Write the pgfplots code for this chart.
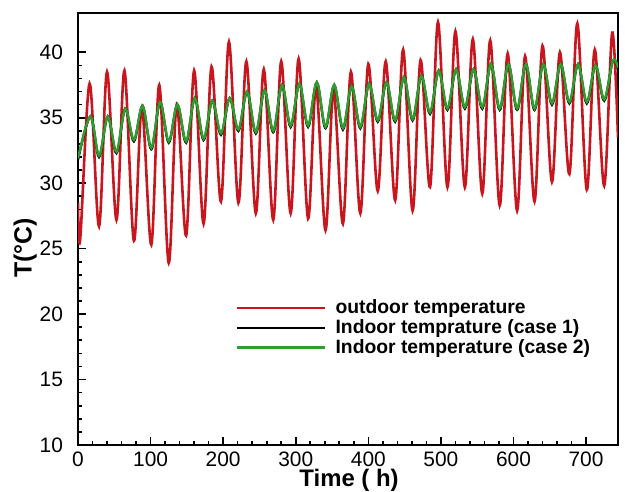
\documentclass[border=0pt]{standalone}
\usepackage{fontspec}
\setmainfont{Liberation Sans}
\usepackage{pgfplots}
\usepackage{pgfplotstable}
\pgfplotsset{compat=1.18}
\definecolor{outred}{HTML}{C8161E}
\definecolor{ingreen}{HTML}{2E9E2E}

% outdoor temperature: daily minima and maxima
\pgfplotstableread{
h T
0 28.5
3 25.7
16 37.6
29 26.7
40 38.5
53 27.2
64 38.6
77 25.6
88 35.8
101 25.3
112 37.5
125 23.9
136 36.0
149 26.0
160 38.6
173 26.9
184 38.9
197 28.6
208 40.8
221 28.5
232 39.3
245 27.7
256 38.7
269 27.2
280 39.3
293 27.7
304 39.5
317 27.3
328 37.4
341 26.4
352 37.1
365 26.9
376 38.5
389 27.7
400 39.1
413 29.4
424 39.3
437 28.7
448 40.2
461 27.9
472 39.4
485 29.7
496 42.3
509 29.7
520 41.6
533 29.7
544 41.0
557 29.2
568 40.9
581 28.3
592 39.9
605 27.9
616 39.7
629 28.6
640 40.5
653 30.1
664 40.0
677 30.7
688 42.2
701 29.5
712 40.2
725 29.8
736 41.5
744 33.5
}\outdoor

% indoor temperature, case 1 and case 2
\pgfplotstableread{
h c1 c2
0 31.8 31.9
17 35.1 35.1
29 32.0 32.1
41 35.1 35.1
53 32.3 32.4
65 35.7 35.7
77 33.2 33.3
89 35.9 35.9
101 32.6 32.7
113 36.2 36.2
125 33.1 33.2
137 36.0 36.0
149 33.1 33.2
161 36.5 36.5
173 33.3 33.4
185 36.3 36.3
197 33.7 33.8
209 36.5 36.5
221 34.0 34.1
233 37.0 37.0
245 33.8 33.9
257 37.1 37.1
269 33.9 34.0
281 37.5 37.5
293 34.3 34.4
305 37.6 37.6
317 34.3 34.4
329 37.7 37.7
341 34.2 34.3
353 37.5 37.5
365 34.1 34.2
377 37.4 37.4
389 34.2 34.3
401 37.6 37.6
413 34.7 34.8
425 37.7 37.7
437 34.7 34.8
449 38.1 38.1
461 34.8 34.9
473 38.2 38.2
485 35.3 35.4
497 38.6 38.6
509 35.6 35.7
521 38.7 38.7
533 35.7 35.8
545 38.7 38.7
557 35.7 35.8
569 39.1 39.1
581 35.6 35.7
593 39.1 39.1
605 35.6 35.7
617 39.1 39.1
629 35.6 35.7
641 39.1 39.1
653 36.0 36.1
665 39.1 39.1
677 36.1 36.2
689 39.1 39.1
701 36.1 36.2
713 39.0 39.0
725 36.3 36.4
737 39.4 39.4
744 38.7 38.8
}\indoor

\begin{document}
\begin{tikzpicture}
\begin{axis}[
  name=main,
  scale only axis,
  width=270bp, height=216bp,
  xmin=0, xmax=744,
  ymin=10, ymax=43,
  xtick={0,100,...,700},
  ytick={10,15,...,40},
  minor x tick num=4,
  minor y tick num=4,
  tick align=inside,
  xtick pos=bottom, ytick pos=left,
  major tick length=4bp,
  minor tick length=2bp,
  tick style={black, line width=0.8bp},
  axis line style={line width=1.2bp},
  /pgf/number format/assume math mode=true,
  tick label style={font=\fontsize{10.5}{12}\selectfont},
  yticklabel style={xshift=-4bp},
  xlabel={Time ( h)},
  ylabel={T(°C)},
  label style={font=\bfseries\fontsize{12.5}{14}\selectfont},
  xlabel style={at={(axis description cs:0.502,-0.056)}, anchor=north,
    inner sep=0pt, font=\bfseries\fontsize{12}{14}\selectfont},
  ylabel style={at={(axis description cs:-0.098,0.456)}, anchor=center},
  legend cell align=left,
  legend style={draw=none, fill=none, at={(rel axis cs:0.28,0.35)},
    anchor=north west, font=\bfseries\fontsize{9.7}{10.5}\selectfont,
    nodes={inner sep=0.7bp}, column sep=4bp, row sep=0pt},
  legend image code/.code={\draw[#1] (0bp,0bp) -- (44bp,0bp);},
]
\addplot[outred, line width=1.3bp, smooth, tension=0.55] table[x=h, y=T] {\outdoor};
\addlegendentry{outdoor temperature}
\addplot[black, line width=1.2bp, smooth, tension=0.55] table[x=h, y=c1] {\indoor};
\addlegendentry{Indoor temprature (case 1)}
\addplot[ingreen, line width=1.2bp, smooth, tension=0.55] table[x=h, y=c2] {\indoor};
\addlegendentry{Indoor temperature (case 2)}
\end{axis}
% white margins round the frame, as in the reference
\path (main.south west) ++(-39bp,-23bp);
\path (main.north east) ++(3.5bp,6.5bp);
\end{tikzpicture}
\end{document}
